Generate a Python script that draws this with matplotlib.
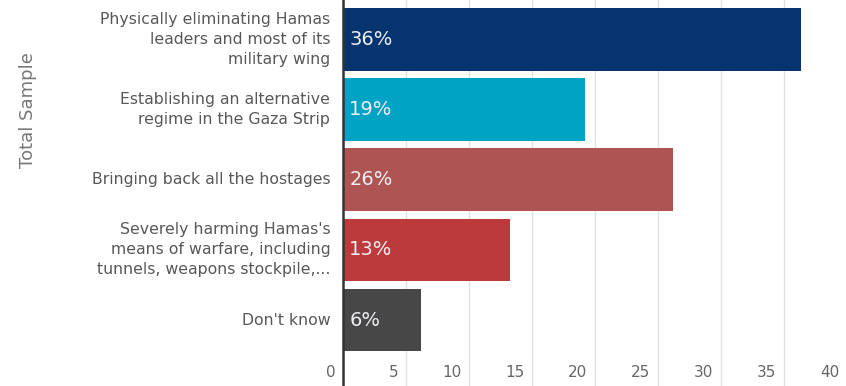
import matplotlib
matplotlib.use("Agg")
import matplotlib.pyplot as plt
import matplotlib.transforms as mtransforms

# Data
categories = [
    "Physically eliminating Hamas\nleaders and most of its\nmilitary wing",
    "Establishing an alternative\nregime in the Gaza Strip",
    "Bringing back all the hostages",
    "Severely harming Hamas's\nmeans of warfare, including\ntunnels, weapons stockpile,...",
    "Don't know",
]
values = [36.3, 19.2, 26.2, 13.2, 6.2]
value_labels = ["36%", "19%", "26%", "13%", "6%"]
colors = ["#06346f", "#00a3c4", "#ae5553", "#bc3a3c", "#474747"]
x_ticks = [0, 5, 10, 15, 20, 25, 30, 35, 40]

fig = plt.figure(figsize=(8.46, 3.86), dpi=100)
ax = fig.add_axes([0.4058, 0.0, 0.5942, 1.0])

y_pos = list(range(len(categories)))
ax.barh(y_pos, values, height=0.89, color=colors, zorder=2)

ax.set_xlim(0, 39.9)
ax.set_ylim(4.94, -0.56)

# vertical gridlines through the whole axes
for t in x_ticks[1:]:
    ax.axvline(t, color="#e2e2e2", linewidth=1, zorder=0)

for s in ["top", "right", "bottom"]:
    ax.spines[s].set_visible(False)
ax.spines["left"].set_color("#333333")
ax.spines["left"].set_linewidth(1.8)
ax.spines["left"].set_zorder(3)

ax.set_xticks([])
ax.set_yticks([])

# x tick labels sit inside the axes, right-aligned just left of each gridline
trans = mtransforms.blended_transform_factory(ax.transData, ax.transAxes)
offset = mtransforms.ScaledTranslation(-8 / 100, 0, fig.dpi_scale_trans)
for t in x_ticks:
    ax.text(t, 0.034, str(t), transform=trans + offset, ha="right", va="center",
            fontsize=11, color="#666666", clip_on=False)

# category labels to the left of the axis
lab_off = mtransforms.ScaledTranslation(-13 / 100, 0, fig.dpi_scale_trans)
for y, cat in zip(y_pos, categories):
    ax.text(0, y, cat, transform=ax.transData + lab_off, ha="right", va="center",
            multialignment="right", fontsize=11.3, color="#585858",
            linespacing=1.42, clip_on=False)

# value labels inside the bars
val_off = mtransforms.ScaledTranslation(6 / 100, 0, fig.dpi_scale_trans)
for y, lab in zip(y_pos, value_labels):
    ax.text(0, y, lab, transform=ax.transData + val_off, ha="left", va="center",
            fontsize=14, color="#eeeef4", zorder=4)

fig.text(0.033, 0.715, "Total Sample", rotation=90, ha="center", va="center",
         fontsize=13, color="#777777")

fig.savefig("out.png", dpi=100)
